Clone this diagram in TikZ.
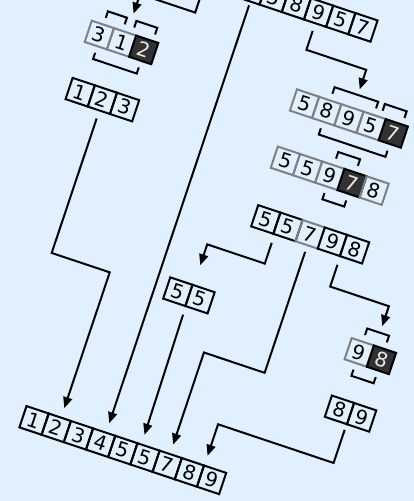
\documentclass[tikz,border=0pt]{standalone}
\usepackage{fontspec}
\setmainfont{DejaVu Sans}
\usetikzlibrary{arrows.meta,calc}
\definecolor{bg}{RGB}{225,240,255}
\definecolor{greyline}{RGB}{128,128,128}
\definecolor{darkcell}{RGB}{50,50,50}
\definecolor{lighttext}{RGB}{232,232,232}
\begin{document}
\begin{tikzpicture}[x=1pt,y=1pt,
  cell/.style={draw=black, line width=2pt, minimum width=23.4pt, minimum height=22.4pt,
    inner sep=0pt, outer sep=0pt, font=\fontsize{20}{20}\selectfont, text=black},
  gcell/.style={cell, draw=greyline},
  pcell/.style={cell, draw=black, fill=darkcell, text=lighttext},
  conn/.style={line width=2pt, line join=miter},
  arr/.style={conn, -{Triangle[length=11pt,width=9pt]}},
  brk/.style={line width=2pt, line join=miter}]
\useasboundingbox (0,0) rectangle (414,-501);
\fill[bg] (0,0) rectangle (414,-501);
\clip (0,0) rectangle (414,-501);
\begin{scope}[rotate=-18.5, transform shape]
% top row (mostly outside the frame)
\node[cell] (T1) at (165.7,89.2) {3};
\node[cell] (T2) at (189.1,89.2) {1};
\node[cell] (T3) at (212.5,89.2) {2};
\node[cell] (T4) at (235.9,89.2) {4};
\node[cell] (T5) at (259.3,89.2) {5};
\node[cell] (T6) at (282.7,89.2) {8};
\node[cell] (T7) at (306.1,89.2) {9};
\node[cell] (T8) at (329.5,89.2) {5};
\node[cell] (T9) at (352.9,89.2) {7};
% 312
\node[gcell] (P1) at (105.3,-1.7) {3};
\node[gcell] (P2) at (128.7,-1.7) {1};
\node[pcell] (P3) at (152.1,-1.7) {2};
% 123
\node[cell] (Q1) at (105.3,-62.0) {1};
\node[cell] (Q2) at (128.7,-62.0) {2};
\node[cell] (Q3) at (152.1,-62.0) {3};
% 58957
\node[gcell] (R1) at (321.7,-1.7) {5};
\node[gcell] (R2) at (345.1,-1.7) {8};
\node[gcell] (R3) at (368.5,-1.7) {9};
\node[gcell] (R4) at (391.9,-1.7) {5};
\node[pcell] (R5) at (415.3,-1.7) {7};
% 55978
\node[gcell] (S1) at (321.7,-62.0) {5};
\node[gcell] (S2) at (345.1,-62.0) {5};
\node[gcell] (S3) at (368.5,-62.0) {9};
\node[pcell] (S4) at (391.9,-62.0) {7};
\node[gcell] (S5) at (415.3,-62.0) {8};
% 55798
\node[cell] (U1) at (321.7,-123.8) {5};
\node[cell] (U2) at (345.1,-123.8) {5};
\node[gcell] (U3) at (368.5,-123.8) {7};
\node[cell] (U4) at (391.9,-123.8) {9};
\node[cell] (U5) at (415.3,-123.8) {8};
% 55
\node[cell] (V1) at (261.2,-220.2) {5};
\node[cell] (V2) at (284.6,-220.2) {5};
% 98
\node[gcell] (W1) at (452.5,-220.2) {9};
\node[pcell] (W2) at (475.9,-220.2) {8};
% 89
\node[cell] (X1) at (452.0,-281.0) {8};
\node[cell] (X2) at (475.4,-281.0) {9};
% final
\node[cell] (F1) at (165.7,-387.9) {1};
\node[cell] (F2) at (189.1,-387.9) {2};
\node[cell] (F3) at (212.5,-387.9) {3};
\node[cell] (F4) at (235.9,-387.9) {4};
\node[cell] (F5) at (259.3,-387.9) {5};
\node[cell] (F6) at (282.7,-387.9) {5};
\node[cell] (F7) at (306.1,-387.9) {7};
\node[cell] (F8) at (329.5,-387.9) {8};
\node[cell] (F9) at (352.9,-387.9) {9};
% brackets
\draw[brk] (106,16.5) -- (106,23.5) -- (126,23.5) -- (126,16.5);
\draw[brk] (136,16.5) -- (136,23.5) -- (158,23.5) -- (158,16.5);
\draw[brk] (107,-19.9) -- (107,-26.4) -- (153,-26.4) -- (153,-19.9);
\draw[brk] (345,16.5) -- (345,23.5) -- (391,23.5) -- (391,16.5);
\draw[brk] (398,16.5) -- (398,23.5) -- (421,23.5) -- (421,16.5);
\draw[brk] (345,-19.9) -- (345,-26.4) -- (415.3,-26.4) -- (415.3,-19.9);
\draw[brk] (369,-43.8) -- (369,-36.8) -- (392,-36.8) -- (392,-43.8);
\draw[brk] (369,-80.2) -- (369,-86.7) -- (392,-86.7) -- (392,-80.2);
\draw[brk] (452.5,-202) -- (452.5,-195) -- (475.5,-195) -- (475.5,-202);
\draw[brk] (452.5,-238.4) -- (452.5,-244.9) -- (476,-244.9) -- (476,-238.4);
% connectors
\draw[arr] ($(T2.south)+(0,-8)$) -- ($(T2.south)+(0,-28)$) -- ($(P2.north)+(2.3,40.5)$) -- ($(P2.north)+(2.3,20)$);
\draw[arr] ($(T7.south)+(0.3,-8)$) -- ($(T7.south)+(0.3,-28)$) -- ($(R3.north)+(1,40.5)$) -- ($(R3.north)+(1,20)$);
\draw[arr] ($(T4.south)+(2,-4)$) -- ($(F4.north)+(2,10)$);
\draw[arr] ($(Q2.south)+(0.6,-8.5)$) -- ($(Q2.south)+(0.6,-150.3)$) -- ($(F2.north)+(1.4,153.2)$) -- ($(F2.north)+(1.4,10)$);
\draw[arr] ($(U1.south east)+(1.4,-9)$) -- ($(U1.south east)+(1.4,-31)$) -- ($(V1.north east)+(1.2,43)$) -- ($(V1.north east)+(1.2,21)$);
\draw[arr] ($(U4.south east)+(0.5,-9)$) -- ($(U4.south east)+(0.5,-32)$) -- ($(W1.north east)+(1.8,42)$) -- ($(W1.north east)+(1.8,21)$);
\draw[arr] ($(U3.south)+(0.8,-7)$) -- ($(U3.south)+(0.8,-134.6)$) -- ($(F7.north)+(-0.8,107.1)$) -- ($(F7.north)+(-0.8,10)$);
\draw[arr] ($(V1.south east)+(0.6,-9)$) -- ($(F6.north)+(-7.7,10.2)$);
\draw[arr] ($(X1.south east)+(-0.4,-6)$) -- ($(X1.south east)+(-0.4,-41)$) -- ($(F8.north east)+(0.3,43.5)$) -- ($(F8.north east)+(0.3,10.3)$);
\end{scope}
\end{tikzpicture}
\end{document}
